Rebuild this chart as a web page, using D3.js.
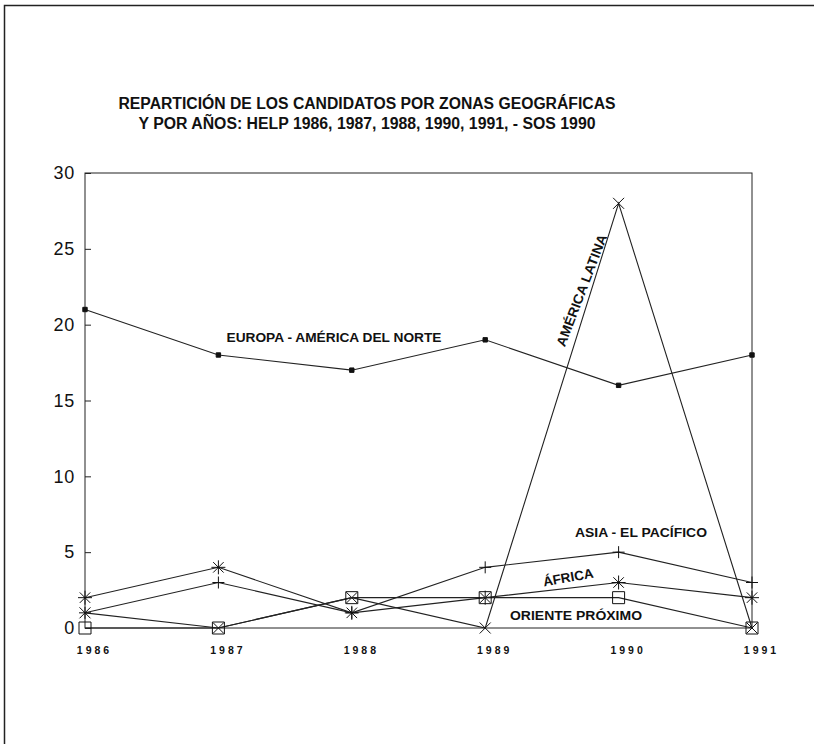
<!DOCTYPE html>
<html>
<head>
<meta charset="utf-8">
<script src="https://cdn.jsdelivr.net/npm/d3@7"></script>
<style>
  body { margin: 0; background: #fff; }
  text { font-family: "Liberation Sans", Arial, Helvetica, sans-serif; fill: #111; }
</style>
</head>
<body>
<script>
// years on the x axis
var years = ["1986", "1987", "1988", "1989", "1990", "1991"];
var yTicks = [0, 5, 10, 15, 20, 25, 30];

// candidates per zone
var europa   = [21, 18, 17, 19, 16, 18];
var latina   = [1, 0, 2, 0, 28, 0];
var asia     = [1, 3, 1, 4, 5, 3];
var africa   = [2, 4, 1, 2, 3, 2];
var oriente  = [0, 0, 2, 2, 2, 0];

var titleLines = [
  "REPARTICIÓN DE LOS CANDIDATOS POR ZONAS GEOGRÁFICAS",
  "Y POR AÑOS: HELP 1986, 1987, 1988, 1990, 1991, - SOS 1990"
];
var titleWidths = [497, 457];

var W = 814, H = 744;
var svg = d3.select("body").append("svg")
  .attr("width", W)
  .attr("height", H);

// page frame (left and top edges only, like the scan)
svg.append("path")
  .attr("d", "M4.5," + H + "V5.5H" + W)
  .attr("fill", "none")
  .attr("stroke", "#222")
  .attr("stroke-width", 1.5);

var x = d3.scalePoint().domain(years).range([85, 752]);
var y = d3.scaleLinear().domain([0, 30]).range([628, 173]);

// title
svg.selectAll(".title")
  .data(titleLines)
  .enter().append("text")
  .attr("class", "title")
  .attr("x", 367)
  .attr("y", function (d, i) { return 109 + i * 19.5; })
  .attr("text-anchor", "middle")
  .attr("font-size", 16)
  .attr("font-weight", "bold")
  .attr("textLength", function (d, i) { return titleWidths[i]; })
  .attr("lengthAdjust", "spacingAndGlyphs")
  .text(function (d) { return d; });

// plot box
svg.append("rect")
  .attr("x", x("1986"))
  .attr("y", y(30))
  .attr("width", x("1991") - x("1986"))
  .attr("height", y(0) - y(30))
  .attr("fill", "none")
  .attr("stroke", "#222")
  .attr("stroke-width", 1);

// y axis: inside ticks, labels on the left
var yAxis = d3.axisLeft(y).tickValues(yTicks).tickSize(-6).tickPadding(10);
var gy = svg.append("g")
  .attr("transform", "translate(" + x("1986") + ",0)")
  .call(yAxis);
gy.select(".domain").remove();
gy.selectAll("line").attr("stroke", "#222");
gy.selectAll("text")
  .attr("font-size", 18)
  .attr("letter-spacing", 0.8)
  .attr("fill", "#111");

// x axis labels
var xAxis = d3.axisBottom(x).tickSize(0).tickPadding(0);
var gx = svg.append("g")
  .attr("transform", "translate(0," + y(0) + ")")
  .call(xAxis);
gx.select(".domain").remove();
gx.selectAll("text")
  .attr("dy", 0)
  .attr("y", 26)
  .attr("dx", 9)
  .attr("font-size", 10.5)
  .attr("font-weight", "bold")
  .attr("letter-spacing", 3)
  .attr("fill", "#111");

// marker shapes
function sqFilled(s) { return "M" + (-s) + "," + (-s) + "h" + 2 * s + "v" + 2 * s + "h" + (-2 * s) + "Z"; }
function plus(s) { return "M" + (-s) + ",0H" + s + "M0," + (-s) + "V" + s; }
function cross(s) { return "M" + (-s) + "," + (-s) + "L" + s + "," + s + "M" + (-s) + "," + s + "L" + s + "," + (-s); }
function star(s) { var d = s * 0.75; return plus(s) + cross(d); }

var series = [
  { name: "europa",  values: europa,  shape: sqFilled(2.2), fill: "#111" },
  { name: "latina",  values: latina,  shape: cross(5.5),   fill: "none" },
  { name: "asia",    values: asia,    shape: plus(6),      fill: "none" },
  { name: "africa",  values: africa,  shape: star(7),      fill: "none" },
  { name: "oriente", values: oriente, shape: sqFilled(6),  fill: "none" }
];

var line = d3.line()
  .x(function (d, i) { return x(years[i]); })
  .y(function (d) { return y(d); });

var g = svg.selectAll(".series")
  .data(series)
  .enter().append("g")
  .attr("class", "series");

g.append("path")
  .attr("d", function (d) { return line(d.values); })
  .attr("fill", "none")
  .attr("stroke", "#222")
  .attr("stroke-width", 1.1);

g.each(function (s) {
  d3.select(this).selectAll(".mk")
    .data(s.values)
    .enter().append("path")
    .attr("class", "mk")
    .attr("transform", function (d, i) { return "translate(" + x(years[i]) + "," + y(d) + ")"; })
    .attr("d", s.shape)
    .attr("fill", s.fill)
    .attr("stroke", "#111")
    .attr("stroke-width", 1);
});

// series labels
function label(txt, px, py, rot, len) {
  svg.append("text")
    .attr("transform", "translate(" + px + "," + py + ") rotate(" + rot + ")")
    .attr("text-anchor", "middle")
    .attr("font-size", 13.5)
    .attr("font-weight", "bold")
    .attr("textLength", len)
    .attr("lengthAdjust", "spacingAndGlyphs")
    .text(txt);
}
label("EUROPA - AMÉRICA DEL NORTE", 334, 342, 0, 215);
label("AMÉRICA LATINA", 586, 292, -69, 119);
label("ASIA - EL PACÍFICO", 641, 537, 0, 132);
label("ÁFRICA", 569, 582, -10, 51);
label("ORIENTE  PRÓXIMO", 576, 620, 0, 132);
</script>
</body>
</html>
